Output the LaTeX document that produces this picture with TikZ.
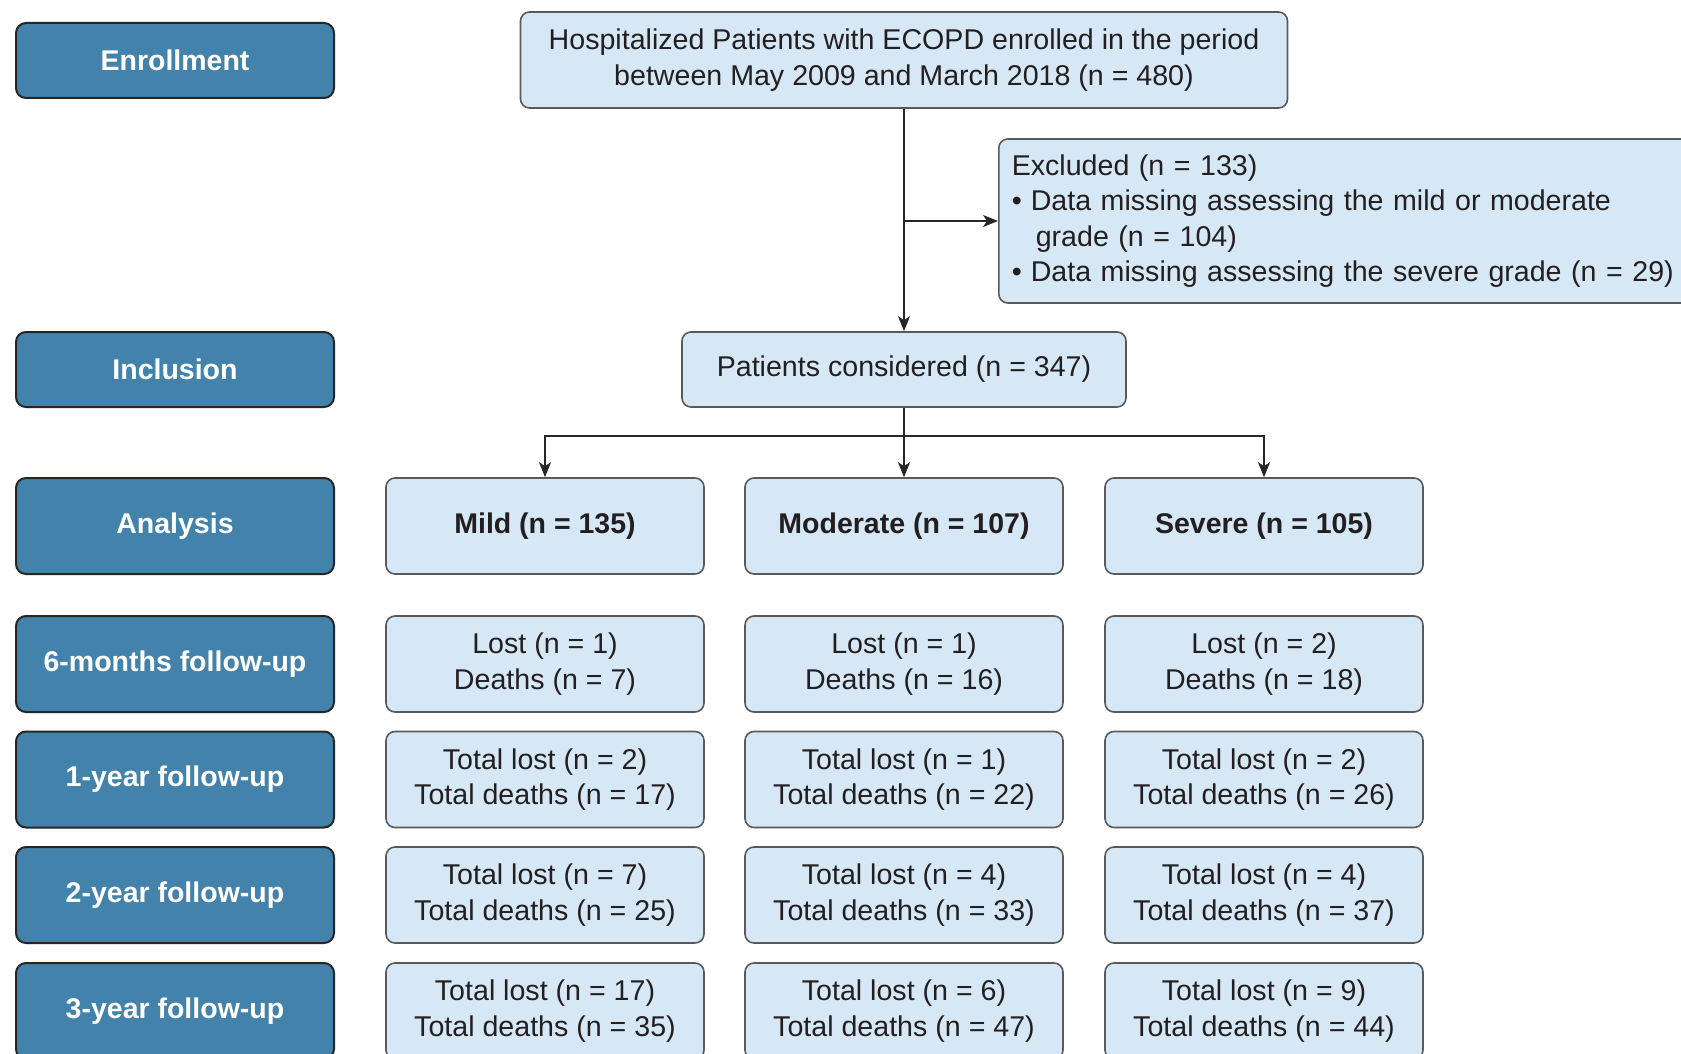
\documentclass[tikz,border=0pt]{standalone}
\usepackage{fontspec}
\setmainfont{Liberation Sans}
\usetikzlibrary{arrows.meta}
\definecolor{labblue}{RGB}{67,130,170}
\definecolor{lightbox}{RGB}{214,232,245}
\definecolor{txt}{RGB}{35,31,32}
\begin{document}
\begin{tikzpicture}[x=1pt,y=-1pt,
  lab/.style={draw=black!85, line width=2pt, fill=labblue, rounded corners=10pt,
    minimum width=318pt, text=white, font=\fontsize{28.5}{34}\selectfont\bfseries, inner sep=0pt},
  lbox/.style={draw=black!65, line width=1.6pt, fill=lightbox, rounded corners=9pt,
    text=txt, font=\fontsize{28.6}{35.4}\selectfont, align=center, inner sep=0pt,
    minimum height=96pt, minimum width=318pt},
  bbox/.style={lbox, font=\fontsize{28.5}{35.4}\selectfont\bfseries},
  arr/.style={-{Stealth[length=15pt,width=12pt,inset=4pt]}, line width=1.5pt, draw=black!85},
  ln/.style={line width=1.5pt, draw=black!85}]
\useasboundingbox (0,0) rectangle (1681,1054);
\clip (0,0) rectangle (1681,1054);

% left stage labels
\node[lab, minimum height=75pt] (enr) at (175,60.5) {Enrollment};
\node[lab, minimum height=75pt] (inc) at (175,369.5) {Inclusion};
\node[lab, minimum height=96pt] (ana) at (175,526) {Analysis};
\node[lab, minimum height=96pt] (f6) at (175,664) {6-months follow-up};
\node[lab, minimum height=96pt] (f1) at (175,779.5) {1-year follow-up};
\node[lab, minimum height=96pt] (f2) at (175,895) {2-year follow-up};
\node[lab, minimum height=96pt] (f3) at (175,1011) {3-year follow-up};

% top part
\node[lbox, minimum width=767pt] (hosp) at (904,60)
  {Hospitalized Patients with ECOPD enrolled in the period\\between May 2009 and March 2018 (n = 480)};
\node[lbox, minimum width=444pt, minimum height=75pt] (pc) at (904,369.5)
  {Patients considered (n = 347)};
\node[lbox, anchor=west, minimum height=164pt, align=left, text width=734pt,
  inner xsep=13pt] (exc) at (998,221)
  {Excluded (n = 133)\\
   \makebox[19pt][l]{•}Data missing assessing the mild or moderate\\
   \hspace*{24pt}grade (n = 104)\\
   \makebox[19pt][l]{•}Data missing assessing the severe grade (n = 29)};

% analysis groups
\node[bbox] (mild) at (545,526) {Mild (n = 135)};
\node[bbox] (mod) at (904,526) {Moderate (n = 107)};
\node[bbox] (sev) at (1264,526) {Severe (n = 105)};

% 6 months
\node[lbox] (m6) at (545,664) {Lost (n = 1)\\Deaths (n = 7)};
\node[lbox] (o6) at (904,664) {Lost (n = 1)\\Deaths (n = 16)};
\node[lbox] (s6) at (1264,664) {Lost (n = 2)\\Deaths (n = 18)};
% 1 year
\node[lbox] (m1) at (545,779.5) {Total lost (n = 2)\\Total deaths (n = 17)};
\node[lbox] (o1) at (904,779.5) {Total lost (n = 1)\\Total deaths (n = 22)};
\node[lbox] (s1) at (1264,779.5) {Total lost (n = 2)\\Total deaths (n = 26)};
% 2 years
\node[lbox] (m2) at (545,895) {Total lost (n = 7)\\Total deaths (n = 25)};
\node[lbox] (o2) at (904,895) {Total lost (n = 4)\\Total deaths (n = 33)};
\node[lbox] (s2) at (1264,895) {Total lost (n = 4)\\Total deaths (n = 37)};
% 3 years
\node[lbox] (m3) at (545,1011) {Total lost (n = 17)\\Total deaths (n = 35)};
\node[lbox] (o3) at (904,1011) {Total lost (n = 6)\\Total deaths (n = 47)};
\node[lbox] (s3) at (1264,1011) {Total lost (n = 9)\\Total deaths (n = 44)};

% connectors
\draw[arr] (hosp.south) -- (pc.north);
\coordinate (br) at (hosp.south |- exc.west);
\draw[arr] (br) -- (exc.west);
\coordinate (sp) at (904,436);
\draw[arr] (pc.south) -- (mod.north);
\draw[arr] (sp) -| (mild.north);
\draw[arr] (sp) -| (sev.north);
\end{tikzpicture}
\end{document}
